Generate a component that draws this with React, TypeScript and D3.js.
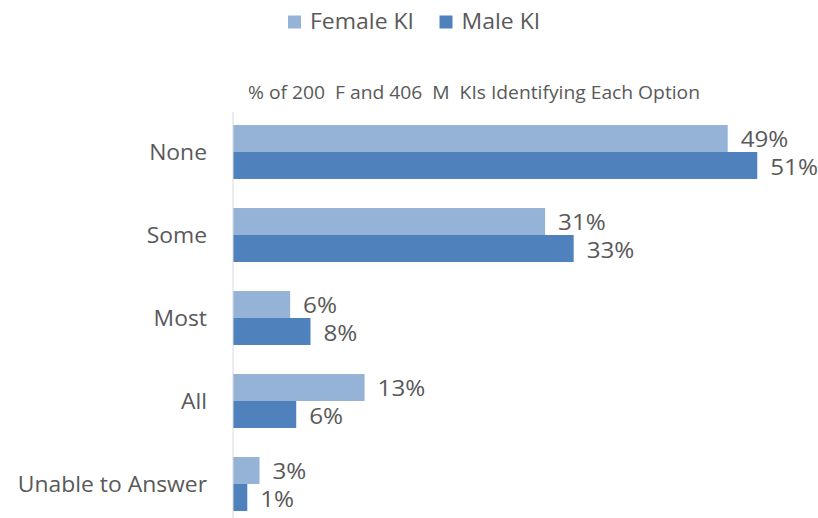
import { scaleBand, scaleLinear } from "d3";

const categories = ["None", "Some", "Most", "All", "Unable to Answer"];
const seriesNames = ["Female KI", "Male KI"];
const femaleValues = [48.5, 30.6, 5.6, 12.9, 2.6];
const maleValues = [51.4, 33.4, 7.6, 6.2, 1.4];
const subtitle = "% of 200  F and 406  M  KIs Identifying Each Option";

const colors = ["#95B3D7", "#4F81BD"];
const textColor = "#595959";
const font = "'Open Sans', 'Liberation Sans', sans-serif";

export default function App() {
    const width = 818;
    const height = 518;
    const axisX = 233;

    const scaleY = scaleBand<string>()
        .domain(categories)
        .range([110.5, 525.5])
        .paddingInner(0.35)
        .paddingOuter(0.175);
    const scaleSeries = scaleBand<string>()
        .domain(seriesNames)
        .range([0, scaleY.bandwidth()]);
    const scaleX = scaleLinear().domain([0, 10]).range([axisX, axisX + 102]);

    const series = [femaleValues, maleValues];

    return (
        <svg
            width={width}
            height={height}
            style={{ position: "absolute", left: 0, top: 0, background: "#fff" }}
            fontFamily={font}
        >
            {/* legend */}
            {seriesNames.map((name, i) => {
                const x = i === 0 ? 288 : 439.5;
                return (
                    <g key={name}>
                        <rect x={x} y={15.5} width={13} height={13} fill={colors[i]} />
                        <text
                            transform={`translate(${x + 22}, 28.5) scale(1.07, 1)`}
                            fontSize={21.5}
                            fill={textColor}
                        >
                            {name}
                        </text>
                    </g>
                );
            })}

            <text
                x={248}
                y={99}
                fontSize={17.5}
                fill={textColor}
                textLength={452}
                lengthAdjust="spacingAndGlyphs"
                style={{ whiteSpace: "pre" }}
            >
                {subtitle}
            </text>

            {/* bars */}
            {categories.map((cat, ci) => (
                <g key={cat} transform={`translate(0, ${scaleY(cat)})`}>
                    <text
                        transform={`translate(207, ${scaleY.bandwidth() / 2}) scale(1.04, 1)`}
                        dy="0.35em"
                        textAnchor="end"
                        fontSize={22}
                        fill={textColor}
                    >
                        {cat}
                    </text>
                    {seriesNames.map((name, si) => {
                        const v = series[si][ci];
                        const y = scaleSeries(name) ?? 0;
                        return (
                            <g key={name}>
                                <rect
                                    x={axisX}
                                    y={y}
                                    width={scaleX(v) - axisX}
                                    height={scaleSeries.bandwidth()}
                                    fill={colors[si]}
                                />
                                <text
                                    transform={`translate(${scaleX(v) + 13}, ${y + scaleSeries.bandwidth() / 2 + si * 1.5}) scale(1.1, 1)`}
                                    dy="0.38em"
                                    fontSize={22}
                                    fill={textColor}
                                >
                                    {`${Math.round(v)}%`}
                                </text>
                            </g>
                        );
                    })}
                </g>
            ))}

            <line x1={axisX} x2={axisX} y1={112} y2={height} stroke="#D9D9D9" strokeWidth={1} />
        </svg>
    );
}
